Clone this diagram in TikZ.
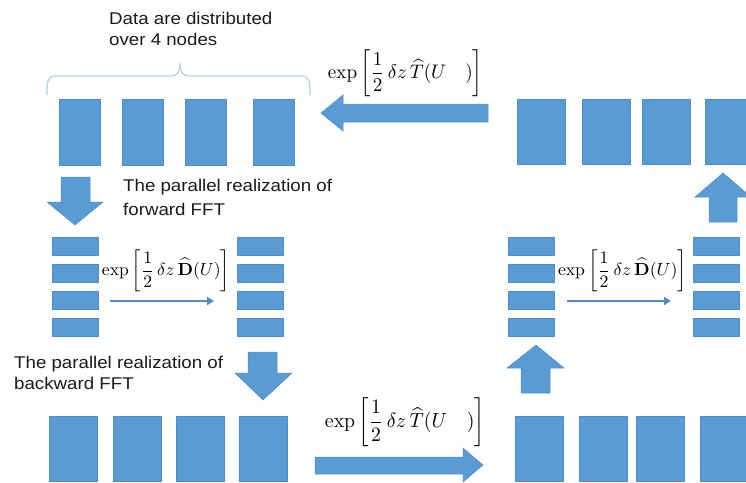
\documentclass[tikz,border=0pt]{standalone}
\usepackage[no-math]{fontspec}
\usepackage{amsmath}
\usepackage{graphicx}
\usetikzlibrary{arrows.meta}
\newfontfamily\lblfam{Liberation Sans}[FakeStretch=1.1]
\newcommand\lblfont{\lblfam\fontsize{17}{20}\selectfont}
\definecolor{bblue}{HTML}{5B9BD5}
\definecolor{bedge}{HTML}{4E8CC8}
\definecolor{tblue}{HTML}{4F8BC9}
\definecolor{brc}{HTML}{B4D2EE}
\definecolor{txt}{HTML}{1A1A1A}
\begin{document}
\begin{tikzpicture}[x=1pt,y=-1pt,
  blk/.style={fill=bblue, draw=bedge, line width=0.5pt, inner sep=0pt, anchor=north west},
  tallblk/.style={blk, minimum width=48pt, minimum height=65pt},
  narrowblk/.style={blk, minimum width=41pt, minimum height=66pt},
  bar/.style={blk, minimum width=46pt, minimum height=18pt},
  barr/.style={fill=bblue, draw=bedge, line width=0.5pt, line join=miter},
  lbl/.style={inner sep=0pt, anchor=base west, font=\lblfont, text=txt},
  formula/.style={inner sep=0pt},
  thinarrow/.style={draw=tblue, line width=2.8pt, -{Triangle[length=7pt,width=8pt]}},
]
\useasboundingbox (0,0) rectangle (746,482);
\clip (0,0) rectangle (746,482);

% labels
\node[lbl] (d1) at (109,24) {Data are distributed};
\node[lbl] (d2) at (109,45) {over 4 nodes};
\node[lbl] (f1) at (123,191) {The parallel realization of};
\node[lbl] (f2) at (123,215) {forward FFT};
\node[lbl] (b1) at (14,368) {The parallel realization of};
\node[lbl] (b2) at (14,389) {backward FFT};

% brace
\draw[brc, line width=1.3pt] (47,95) .. controls (47,82) and (47,76) .. (56,76) -- (170,76)
  .. controls (178,76) and (180,72) .. (180,63)
  .. controls (180,72) and (182,76) .. (190,76) -- (301,76)
  .. controls (310,76) and (310,82) .. (310,95);

% top-left blocks
\node[narrowblk] (tl1) at (59,99) {};
\node[narrowblk] (tl2) at (122,99) {};
\node[narrowblk] (tl3) at (185,99) {};
\node[narrowblk] (tl4) at (253,99) {};

% top-right blocks
\node[tallblk] (tr1) at (517,99) {};
\node[tallblk] (tr2) at (582,99) {};
\node[tallblk] (tr3) at (642,99) {};
\node[tallblk] (tr4) at (705,99) {};

% bottom-left blocks
\node[tallblk] (bl1) at (49,416) {};
\node[tallblk] (bl2) at (113,416) {};
\node[tallblk] (bl3) at (176,416) {};
\node[tallblk] (bl4) at (239,416) {};

% bottom-right blocks
\node[tallblk] (br1) at (515,416) {};
\node[tallblk] (br2) at (579,416) {};
\node[tallblk] (br3) at (636,416) {};
\node[tallblk] (br4) at (700,416) {};

% stacks of bars
\foreach \i/\y in {1/237,2/264,3/291,4/318} {
  \node[bar] (la\i) at (52,\y) {};
  \node[bar] (lb\i) at (237,\y) {};
  \node[bar] (ra\i) at (508,\y) {};
  \node[bar] (rb\i) at (693,\y) {};
}

% thin arrows
\coordinate (lt0) at (110,301);
\coordinate (lt1) at (214,301);
\coordinate (rt0) at (567,301);
\coordinate (rt1) at (671,301);
\draw[thinarrow] (lt0) -- (lt1);
\draw[thinarrow] (rt0) -- (rt1);

% formulas
\node[formula] (fx1) at (405.5,73.5) {\resizebox*{155pt}{47pt}{$\exp\left[\dfrac{1}{2}\,\delta z\,\widehat{T}(U\quad)\right]$}};
\node[formula] (fx2) at (405,422.5) {\resizebox*{160pt}{49pt}{$\exp\left[\dfrac{1}{2}\,\delta z\,\widehat{T}(U\quad)\right]$}};
\node[formula] (fx3) at (166,271) {\resizebox*{128pt}{42pt}{$\exp\left[\dfrac{1}{2}\,\delta z\,\widehat{\mathbf{D}}(U)\right]$}};
\node[formula] (fx4) at (622.5,271) {\resizebox*{129pt}{42pt}{$\exp\left[\dfrac{1}{2}\,\delta z\,\widehat{\mathbf{D}}(U)\right]$}};

% block arrows
\fill[barr] (61,177) -- (90,177) -- (90,202) -- (103,202) -- (75,225) -- (47,202) -- (61,202) -- cycle;
\fill[barr] (248,352) -- (277,352) -- (277,373) -- (292,373) -- (263,400) -- (235,373) -- (248,373) -- cycle;
\fill[barr] (521,393) -- (550,393) -- (550,368) -- (564,368) -- (536,345) -- (507,368) -- (521,368) -- cycle;
\fill[barr] (709,222) -- (737,222) -- (737,197) -- (751,197) -- (723,173) -- (695,197) -- (709,197) -- cycle;
\fill[barr] (488,104) -- (488,122) -- (343,122) -- (343,131) -- (321,113) -- (343,95) -- (343,104) -- cycle;
\fill[barr] (315,457) -- (463,457) -- (463,448) -- (483,465) -- (463,482) -- (463,474) -- (315,474) -- cycle;
\end{tikzpicture}
\end{document}
